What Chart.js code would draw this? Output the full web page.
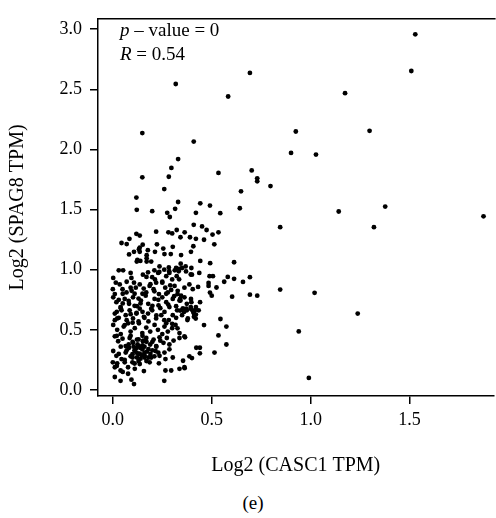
<!DOCTYPE html>
<html>
<head>
<meta charset="utf-8">
<script src="https://cdn.jsdelivr.net/npm/chart.js@4"></script>
<style>
  html, body { margin: 0; padding: 0; background: #fff; }
  #wrap { position: relative; width: 496px; height: 518px; }
  #caption { position: absolute; left: 5px; width: 496px; top: 492px; text-align: center;
             font: 19px "Liberation Serif", "DejaVu Serif", serif; color: #000; }
</style>
</head>
<body>
<div id="wrap">
  <canvas id="chart" width="496" height="485"></canvas>
  <div id="caption">(e)</div>
</div>
<script>
// [CASC1, SPAG8] pairs
const upperPoints = [
  [1.529,2.957],[1.509,2.652],[0.693,2.636],[0.318,2.544],[0.583,2.44],[1.174,2.468],
  [0.925,2.149],[1.298,2.155],[0.149,2.136],[0.409,2.065],[0.901,1.971],[1.027,1.957],
  [0.330,1.92],[0.296,1.846],[0.702,1.825],[0.534,1.805],[0.283,1.773],[0.149,1.768],
  [0.73,1.76],[0.73,1.735],[0.797,1.695],[0.26,1.67],[0.648,1.652],[0.119,1.60],
  [0.33,1.563],[0.442,1.552],[0.491,1.533],[0.642,1.511],[0.315,1.506],[0.121,1.498],
  [0.199,1.487],[1.142,1.484],[1.377,1.525],[1.874,1.444],[0.275,1.473],[0.42,1.473],
  [0.543,1.47],[0.288,1.438],[0.846,1.354],[1.32,1.354]
];
const bandPoints = [
  [0.409,1.373],[0.451,1.36],[0.323,1.33],[0.474,1.33],[0.219,1.316],[0.281,1.311],
  [0.363,1.311],[0.534,1.311],[0.3,1.302],[0.119,1.298],[0.504,1.292],[0.136,1.284],
  [0.342,1.27],[0.39,1.27],[0.084,1.257],[0.42,1.257],[0.461,1.249],[0.044,1.222],
  [0.07,1.213],[0.223,1.211],[0.513,1.211],[0.151,1.208],[0.407,1.195],[0.303,1.19],
  [0.136,1.184],[0.255,1.176],[0.132,1.17],[0.177,1.162],[0.107,1.149],[0.213,1.149],
  [0.395,1.149],[0.136,1.149],[0.082,1.127],[0.261,1.13],[0.293,1.13],[0.345,1.122],
  [0.171,1.12],[0.171,1.095],[0.124,1.081],[0.139,1.073],[0.442,1.073],[0.121,1.068],
  [0.171,1.068],[0.194,1.068],[0.613,1.062],[0.492,1.054],[0.343,1.05],[0.236,1.027],
  [0.368,1.027],[0.283,1.019],[0.32,1.014],[0.397,1.014],[0.335,1.006],[0.03,0.995],
  [0.052,0.995],[0.21,0.995],[0.235,0.981],[0.26,1.0],[0.285,0.987],[0.313,0.995],
  [0.333,0.987]
];
const rightPoints = [
  [0.658,0.898],[0.693,0.938],[0.693,0.792],[0.73,0.784],[0.846,0.835],[1.02,0.808],
  [1.238,0.635],[0.94,0.487],[0.991,0.1],[0.563,0.9],[0.581,0.94],[0.613,0.924],
  [0.603,0.776],[0.544,0.59],[0.574,0.527],[0.534,0.454],[0.574,0.378],[0.514,0.311]
];
const midPoints = [
  [0.489,0.946],[0.506,0.946],[0.484,0.89],[0.484,0.865],[0.524,0.852],[0.491,0.81],
  [0.5,0.784],[0.431,0.857],[0.441,0.73],[0.461,0.54],[0.422,0.351],[0.44,0.351],
  [0.44,0.305],[0.387,0.28],[0.4,0.265],[0.355,0.243],[0.363,0.181],[0.365,0.438],
  [0.327,0.513],[0.377,0.581],[0.41,0.608],[0.419,0.594],[0.397,0.73],[0.34,0.757],
  [0.342,0.743],[0.327,0.797],[0.335,0.92],[0.394,0.96],[0.355,0.676],[0.372,0.676],
  [0.394,0.689],[0.402,0.662],[0.419,0.667],[0.36,0.649],[0.41,0.635]
];
const corePoints = [
  [0.09,0.973],[0.002,0.932],[0.015,0.892],[0.094,0.932],[0.107,0.892],[0.152,0.959],
  [0.178,0.978],[0.199,0.938],[0.213,0.919],[0.229,0.973],[0.27,0.946],[0.286,0.973],
  [0.3,0.919],[0.323,0.946],[0.35,1.014],[0.37,0.986],[0.4,0.959],[0.437,0.973],
  [0.0,0.838],[0.01,0.797],[0.035,0.878],[0.049,0.838],[0.069,0.811],[0.095,0.824],
  [0.116,0.851],[0.136,0.878],[0.156,0.843],[0.169,0.811],[0.186,0.865],[0.206,0.838],
  [0.219,0.892],[0.233,0.797],[0.25,0.892],[0.265,0.851],[0.278,0.811],[0.295,0.832],
  [0.312,0.865],[0.328,0.824],[0.345,0.784],[0.362,0.851],[0.387,0.878],[0.404,0.838],
  [0.002,0.77],[0.018,0.73],[0.039,0.689],[0.06,0.757],[0.082,0.716],[0.102,0.77],
  [0.122,0.697],[0.142,0.743],[0.166,0.784],[0.179,0.716],[0.194,0.676],[0.211,0.757],
  [0.231,0.703],[0.25,0.77],[0.27,0.73],[0.286,0.689],[0.303,0.757],[0.32,0.697],
  [0.337,0.743],[0.353,0.676],[0.374,0.716],[0.395,0.757],[0.42,0.689],[0.362,0.77],
  [0.01,0.635],[0.022,0.595],[0.044,0.662],[0.065,0.622],[0.085,0.662],[0.102,0.595],
  [0.119,0.635],[0.136,0.676],[0.157,0.608],[0.178,0.635],[0.199,0.662],[0.219,0.595],
  [0.245,0.622],[0.261,0.649],[0.283,0.581],[0.303,0.622],[0.325,0.662],[0.35,0.622],
  [0.374,0.662],[0.395,0.676],[0.407,0.649],[0.42,0.627],[0.434,0.662],[0.379,0.595],
  [0.002,0.541],[0.022,0.5],[0.04,0.465],[0.055,0.527],[0.077,0.554],[0.09,0.486],
  [0.111,0.514],[0.132,0.554],[0.149,0.473],[0.169,0.519],[0.189,0.486],[0.211,0.541],
  [0.228,0.5],[0.25,0.465],[0.261,0.527],[0.278,0.486],[0.3,0.514],[0.317,0.541],
  [0.337,0.473],[0.362,0.446],[0.27,0.554],
  [0.01,0.446],[0.027,0.405],[0.049,0.427],[0.065,0.365],[0.085,0.432],[0.102,0.392],
  [0.122,0.419],[0.132,0.365],[0.152,0.405],[0.169,0.432],[0.189,0.378],[0.206,0.419],
  [0.219,0.365],[0.236,0.438],[0.256,0.392],[0.273,0.432],[0.286,0.378],[0.307,0.411],
  [0.337,0.432],
  [0.002,0.324],[0.018,0.284],[0.044,0.257],[0.065,0.311],[0.082,0.351],[0.099,0.297],
  [0.111,0.324],[0.122,0.27],[0.136,0.303],[0.149,0.338],[0.161,0.284],[0.173,0.319],
  [0.194,0.27],[0.216,0.324],[0.236,0.284],[0.261,0.311],[0.286,0.338],[0.303,0.27],
  [0.266,0.257],
  [0.0,0.23],[0.01,0.189],[0.022,0.222],[0.039,0.162],[0.06,0.23],[0.077,0.189],
  [0.099,0.23],[0.111,0.176],[0.136,0.216],[0.157,0.157],[0.186,0.23],[0.233,0.222],
  [0.266,0.162],[0.295,0.162],[0.337,0.176],[0.362,0.189],
  [0.01,0.108],[0.039,0.076],[0.077,0.135],[0.107,0.049],[0.26,0.076],[0.094,0.086]
];
const densePoints = [
  [0.07,0.33],[0.09,0.28],[0.1,0.4],[0.12,0.35],[0.13,0.3],[0.14,0.26],[0.15,0.37],
  [0.16,0.31],[0.17,0.24],[0.18,0.34],[0.11,0.22],[0.13,0.42],[0.15,0.45],[0.08,0.38],
  [0.12,0.31],[0.14,0.35],[0.16,0.27],[0.19,0.3],[0.2,0.4],[0.1,0.27],[0.17,0.4],
  [0.13,0.24],[0.11,0.33],[0.16,0.36],[0.18,0.27],[0.06,0.25],[0.2,0.33],[0.22,0.36],
  [0.23,0.31],[0.24,0.41],[0.21,0.28],[0.09,0.45],[0.125,0.38],[0.145,0.29],[0.155,0.41],
  [0.105,0.36],
  [0.03,0.6],[0.05,0.72],[0.07,0.58],[0.09,0.63],[0.11,0.7],[0.13,0.57],[0.15,0.65],
  [0.04,0.68],[0.08,0.74],[0.12,0.64],[0.14,0.72],[0.06,0.54],[0.1,0.56],[0.16,0.6],
  [0.18,0.57],[0.2,0.7],[0.22,0.62],[0.24,0.68],[0.26,0.58],[0.28,0.71],[0.3,0.55],
  [0.32,0.6],[0.34,0.66],[0.23,0.75],[0.27,0.8],[0.29,0.87],[0.31,0.78],[0.25,0.9],
  [0.21,0.82],[0.19,0.88],[0.17,0.94],[0.15,0.8],[0.13,0.76],[0.11,0.8],[0.09,0.85],
  [0.07,0.9],[0.05,0.8],[0.03,0.75],[0.02,0.65],[0.01,0.58],[0.02,0.45],[0.04,0.36],
  [0.03,0.3],[0.05,0.15],[0.02,0.2]
];
const xTicks = [0, 0.5, 1.0, 1.5];
const yTicks = [0, 0.5, 1.0, 1.5, 2.0, 2.5, 3.0];

const serif = '"Liberation Serif", "DejaVu Serif", serif';
const allPoints = [...upperPoints, ...bandPoints, ...rightPoints, ...midPoints, ...corePoints, ...densePoints]
  .map(([x, y]) => ({ x: x, y: y }));

// top frame line + the p-value / R note
const frameAndNote = {
  id: 'frameAndNote',
  afterDraw(chart) {
    const { ctx, chartArea } = chart;
    ctx.save();
    ctx.strokeStyle = '#000';
    ctx.lineWidth = 1.5;
    ctx.beginPath();
    ctx.moveTo(chartArea.left, chartArea.top);
    ctx.lineTo(chartArea.right + 2, chartArea.top);
    ctx.stroke();

    ctx.fillStyle = '#000';
    ctx.textBaseline = 'alphabetic';
    let x = 120;
    ctx.font = 'italic 19px ' + serif;
    ctx.fillText('p', x, 36);
    x += ctx.measureText('p').width;
    ctx.font = '19px ' + serif;
    ctx.fillText(' \u2013 value = 0', x, 36);

    x = 120;
    ctx.font = 'italic 19px ' + serif;
    ctx.fillText('R', x, 60);
    x += ctx.measureText('R').width;
    ctx.font = '19px ' + serif;
    ctx.fillText(' = 0.54', x, 60);
    ctx.restore();
  }
};

new Chart(document.getElementById('chart').getContext('2d'), {
  type: 'scatter',
  data: {
    datasets: [{
      data: allPoints,
      backgroundColor: '#000',
      borderWidth: 0,
      pointRadius: 2.4,
      pointHoverRadius: 2.4
    }]
  },
  options: {
    responsive: false,
    animation: false,
    events: [],
    layout: { padding: { top: 9, left: 0, right: 0, bottom: 0 } },
    plugins: { legend: { display: false }, tooltip: { enabled: false } },
    scales: {
      x: {
        type: 'linear',
        min: -0.075,
        max: 1.925,
        afterFit: s => { s.height = 89; },
        afterBuildTicks: s => { s.ticks = xTicks.map(v => ({ value: v })); },
        ticks: { color: '#000', padding: 5, font: { family: serif, size: 18 }, callback: v => v.toFixed(1) },
        grid: { drawOnChartArea: false, drawTicks: true, tickLength: 8, color: '#000', tickColor: '#000', lineWidth: 1.5, tickWidth: 1.5 },
        border: { display: true, color: '#000', width: 1.5 },
        title: { display: true, text: 'Log2 (CASC1 TPM)', color: '#000', font: { family: serif, size: 20 }, padding: { top: 0, bottom: 7 } }
      },
      y: {
        type: 'linear',
        min: -0.05,
        max: 3.086,
        afterFit: s => { s.width = 98; },
        afterBuildTicks: s => { s.ticks = yTicks.map(v => ({ value: v })); },
        ticks: { color: '#000', padding: 8, font: { family: serif, size: 18 }, callback: v => v.toFixed(1) },
        grid: { drawOnChartArea: false, drawTicks: true, tickLength: 8, color: '#000', tickColor: '#000', lineWidth: 1.5, tickWidth: 1.5 },
        border: { display: true, color: '#000', width: 1.5 },
        title: { display: true, text: 'Log2 (SPAG8 TPM)', color: '#000', font: { family: serif, size: 20 }, padding: { top: 6, bottom: 0 } }
      }
    }
  },
  plugins: [frameAndNote]
});
</script>
</body>
</html>
